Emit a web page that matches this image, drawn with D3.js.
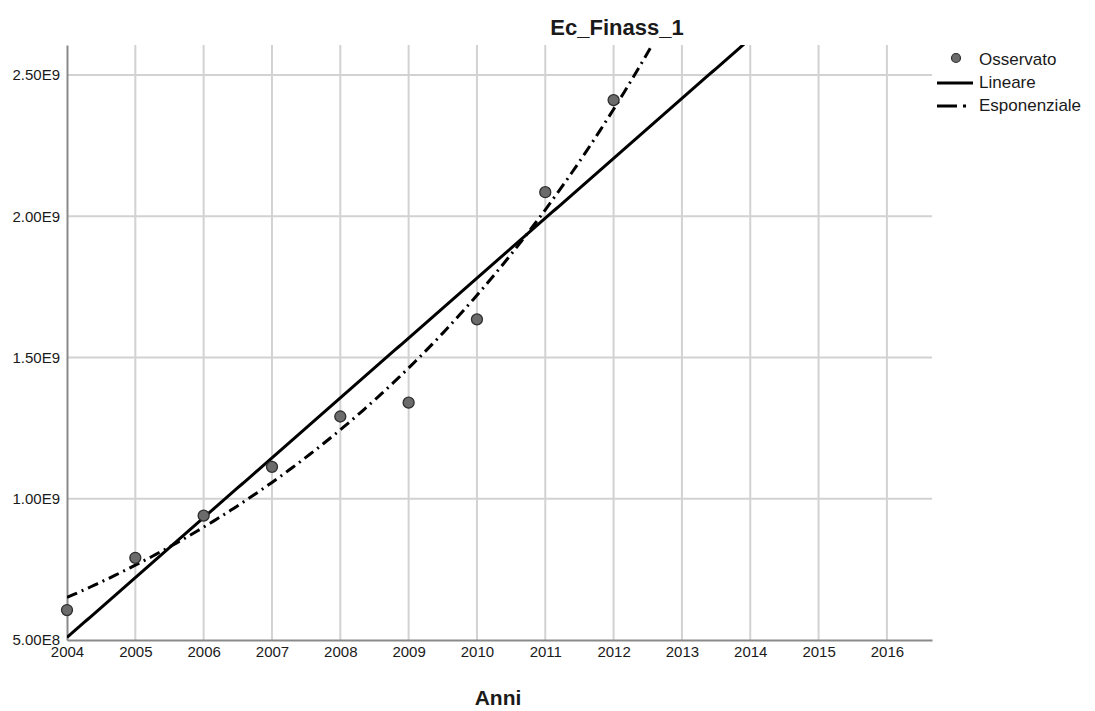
<!DOCTYPE html>
<html>
<head>
<meta charset="utf-8">
<script src="https://cdn.jsdelivr.net/npm/d3@7"></script>
<style>
  body { margin: 0; background: #fff; }
  text { font-family: "Liberation Sans", Arial, sans-serif; fill: #1a1a1a; }
</style>
</head>
<body>
<svg width="1095" height="711"></svg>
<script>
var years = [2004, 2005, 2006, 2007, 2008, 2009, 2010, 2011, 2012]
var observed = [6.06e8, 7.91e8, 9.40e8, 1.113e9, 1.291e9, 1.34e9, 1.635e9, 2.085e9, 2.411e9]
var xTicks = [2004, 2005, 2006, 2007, 2008, 2009, 2010, 2011, 2012, 2013, 2014, 2015, 2016]
var yTicks = [5e8, 1e9, 1.5e9, 2e9, 2.5e9]
var legendLabels = ['Osservato', 'Lineare', 'Esponenziale']

var svg = d3.select('svg')
var pLeft = 67, pRight = 932, pTop = 45, pBottom = 640

var x = d3.scaleLinear().domain([2004, 2016.66]).range([pLeft, pRight])
var y = d3.scaleLinear().domain([5e8, 2.606e9]).range([pBottom, pTop])

// least squares fits (linear and log-linear) from the observed data
var fit = (xs, ys) => {
  var mx = d3.mean(xs), my = d3.mean(ys)
  var sxy = d3.sum(xs, (v, i) => (v - mx) * (ys[i] - my))
  var sxx = d3.sum(xs, v => (v - mx) * (v - mx))
  var b = sxy / sxx
  return { a: my - b * mx, b: b }
}
var lin = fit(years, observed)
var expo = fit(years, observed.map(v => Math.log(v)))

svg.append('defs').append('clipPath').attr('id', 'plot')
  .append('rect').attr('x', pLeft).attr('y', pTop)
  .attr('width', pRight - pLeft).attr('height', pBottom - pTop)

// grid
var grid = svg.append('g').attr('stroke', '#d2d2d2').attr('stroke-width', 2)
grid.selectAll('.vx').data(xTicks.slice(1)).enter().append('line')
  .attr('x1', d => x(d)).attr('x2', d => x(d))
  .attr('y1', pTop).attr('y2', pBottom)
grid.selectAll('.hy').data(yTicks.slice(1)).enter().append('line')
  .attr('x1', pLeft).attr('x2', pRight)
  .attr('y1', d => y(d)).attr('y2', d => y(d))

// axes
var sci = d => {
  var e = Math.floor(Math.log10(d))
  return (d / Math.pow(10, e)).toFixed(2) + 'E' + e
}
var xAxis = svg.append('g').attr('transform', 'translate(0,' + pBottom + ')')
  .call(d3.axisBottom(x).tickValues(xTicks).tickSize(0).tickPadding(6).tickFormat(d3.format('d')))
var yAxis = svg.append('g').attr('transform', 'translate(' + pLeft + ',0)')
  .call(d3.axisLeft(y).tickValues(yTicks).tickSize(0).tickPadding(7).tickFormat(sci))
;[xAxis, yAxis].forEach(g => {
  g.attr('font-size', 15).attr('font-family', '"Liberation Sans", Arial, sans-serif')
  g.select('.domain').attr('stroke', '#8a8a8a').attr('stroke-width', 2)
  g.selectAll('text').attr('fill', '#1a1a1a')
})

var plot = svg.append('g').attr('clip-path', 'url(#plot)')
var xs = d3.range(2004, 2016.7, 0.05)

plot.append('path')
  .datum(xs)
  .attr('fill', 'none').attr('stroke', '#000').attr('stroke-width', 3)
  .attr('d', d3.line().x(d => x(d)).y(d => y(lin.a + lin.b * d)))

plot.append('path')
  .datum(xs)
  .attr('fill', 'none').attr('stroke', '#000').attr('stroke-width', 3)
  .attr('stroke-dasharray', '11,5,2,5')
  .attr('d', d3.line().x(d => x(d)).y(d => y(Math.exp(expo.a + expo.b * d))))

svg.append('g').selectAll('circle').data(years).enter().append('circle')
  .attr('cx', d => x(d))
  .attr('cy', (d, i) => y(observed[i]))
  .attr('r', 5.5)
  .attr('fill', '#6b6b6b').attr('stroke', '#2e2e2e').attr('stroke-width', 1.3)

// titles
svg.append('text').attr('x', 617).attr('y', 35).attr('text-anchor', 'middle')
  .attr('font-size', 22).attr('font-weight', 'bold').text('Ec_Finass_1')
svg.append('text').attr('x', 498).attr('y', 705).attr('text-anchor', 'middle')
  .attr('font-size', 21).attr('font-weight', 'bold').text('Anni')

// legend
var lg = svg.append('g').attr('transform', 'translate(937,0)')
lg.append('circle').attr('cx', 19).attr('cy', 58).attr('r', 4.5)
  .attr('fill', '#6b6b6b').attr('stroke', '#2e2e2e').attr('stroke-width', 1.2)
lg.append('line').attr('x1', 0).attr('x2', 36).attr('y1', 83).attr('y2', 83)
  .attr('stroke', '#000').attr('stroke-width', 3)
lg.append('line').attr('x1', 0).attr('x2', 36).attr('y1', 106).attr('y2', 106)
  .attr('stroke', '#000').attr('stroke-width', 3).attr('stroke-dasharray', '20,6,3,20')
lg.selectAll('text').data(legendLabels).enter().append('text')
  .attr('x', 42).attr('y', (d, i) => 65 + i * 23)
  .attr('font-size', 17).text(d => d)
</script>
</body>
</html>
